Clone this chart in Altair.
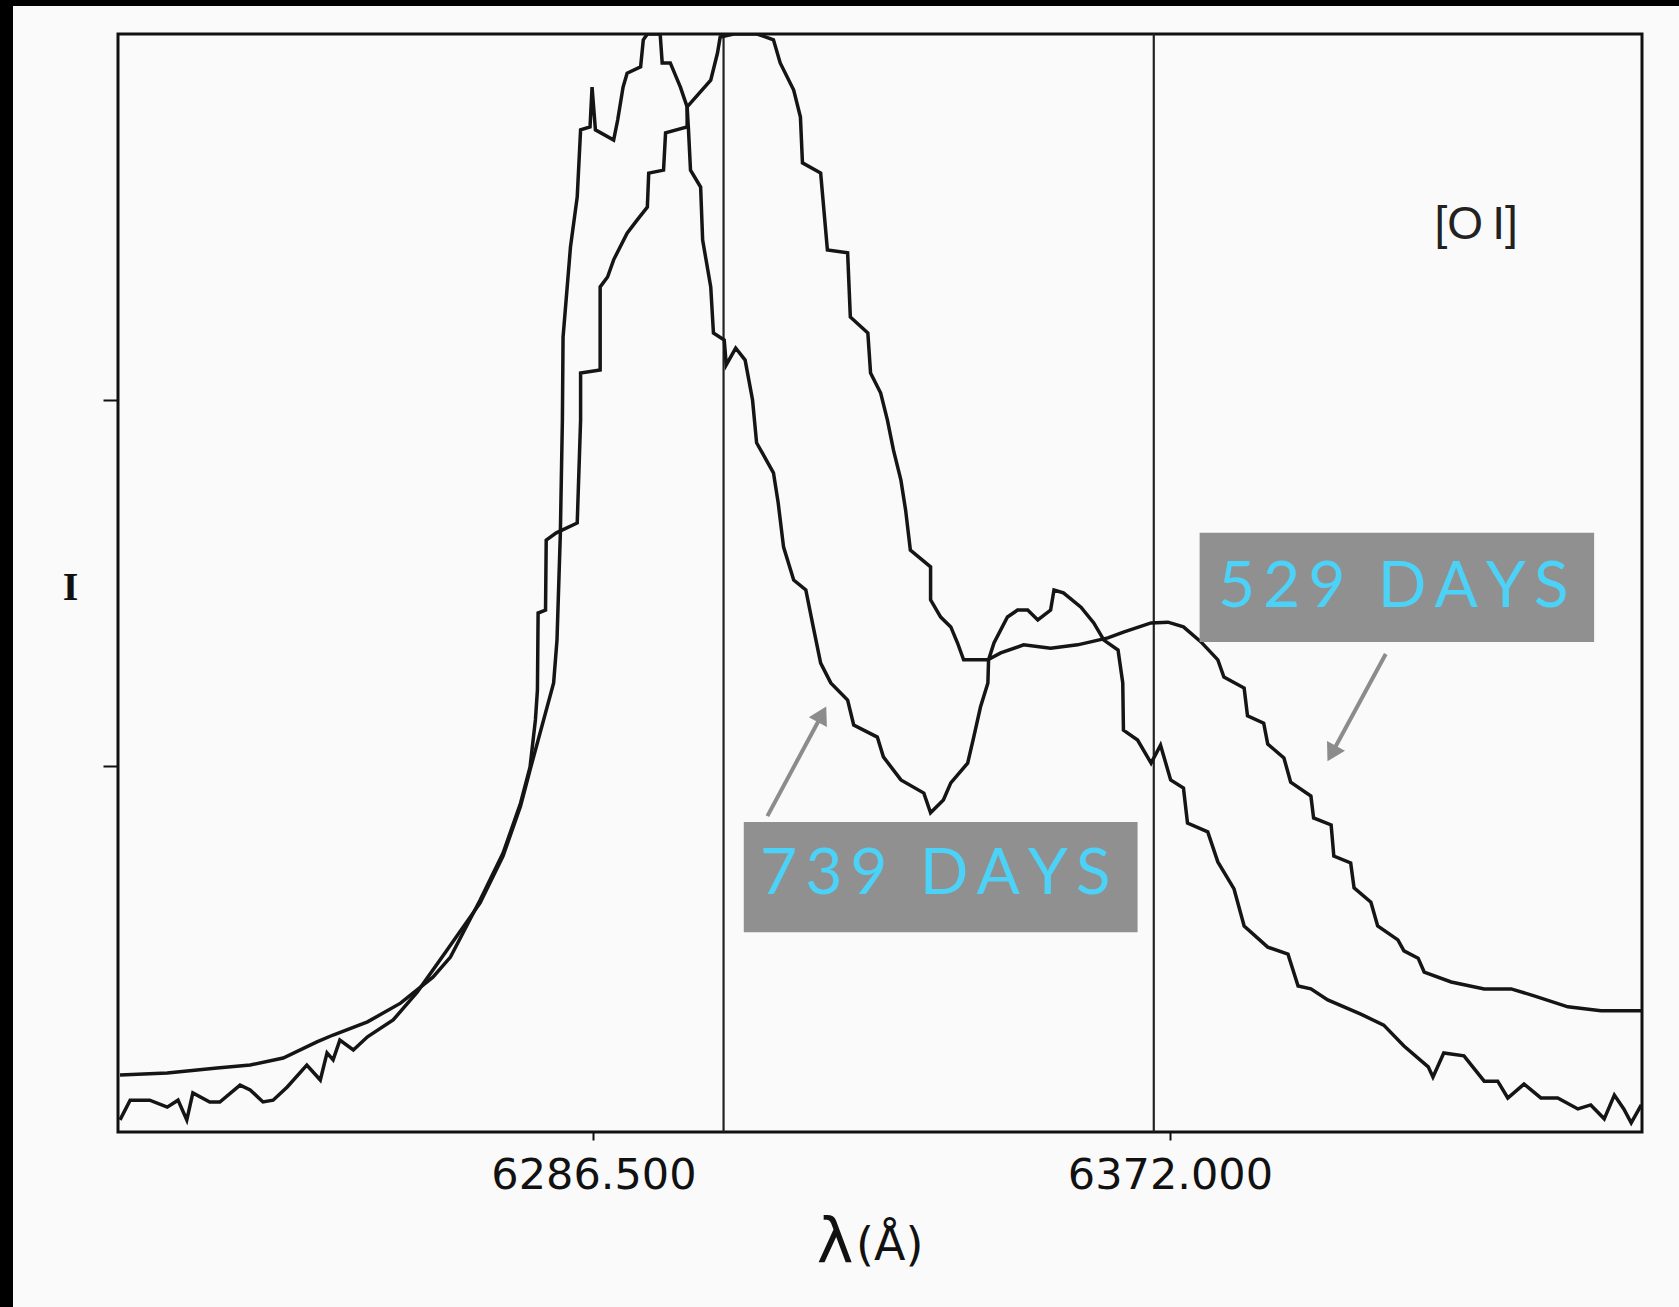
import altair as alt
import pandas as pd

# ---- spectrum at 529 days (wavelength in Angstrom, relative intensity) ----
wl_529 = [6216.3, 6223.3, 6230.7, 6235.6, 6240.5, 6245.5, 6247.9, 6253.0, 6257.9, 6262.7,
          6265.3, 6269.7, 6273.1, 6275.7, 6277.1, 6277.9, 6278.2, 6278.3, 6279.4, 6279.5,
          6281.0, 6284.1, 6284.6, 6284.6, 6287.5, 6287.5, 6288.6, 6289.5, 6291.5, 6293.0,
          6294.5, 6294.7, 6296.9, 6297.2, 6300.4, 6300.4, 6303.9, 6304.9, 6305.3, 6307.3,
          6309.3, 6310.8, 6313.2, 6314.2, 6316.2, 6317.2, 6317.5, 6320.2, 6321.2, 6324.2,
          6324.6, 6327.2, 6327.6, 6329.1, 6330.1, 6331.0, 6332.1, 6332.8, 6333.5, 6336.5,
          6336.5, 6338.0, 6339.5, 6340.5, 6341.4, 6345.0, 6346.9, 6350.3, 6354.3, 6358.3,
          6362.8, 6365.1, 6369.2, 6371.7, 6374.0, 6376.6, 6379.1, 6380.0, 6383.0, 6383.5,
          6385.9, 6386.5, 6388.9, 6389.9, 6392.9, 6393.3, 6395.9, 6396.3, 6398.8, 6399.3,
          6401.8, 6402.8, 6405.8, 6406.7, 6408.8, 6409.7, 6413.7, 6418.6, 6422.6, 6426.0,
          6431.0, 6435.9, 6441.9]
int_529 = [0.156, 0.161, 0.175, 0.183, 0.202, 0.246, 0.265, 0.301, 0.352, 0.423,
           0.478, 0.634, 0.762, 0.899, 0.997, 1.126, 1.208, 1.418, 1.426, 1.617,
           1.637, 1.664, 1.945, 2.074, 2.082, 2.309, 2.336, 2.383, 2.456, 2.492,
           2.527, 2.620, 2.628, 2.730, 2.746, 2.801, 2.874, 2.948, 2.992, 3.0,
           3.0, 3.0, 2.984, 2.921, 2.847, 2.773, 2.648, 2.620, 2.410, 2.402,
           2.227, 2.183, 2.074, 2.019, 1.945, 1.863, 1.781, 1.699, 1.590, 1.544,
           1.454, 1.407, 1.380, 1.336, 1.290, 1.290, 1.309, 1.331, 1.322, 1.331,
           1.350, 1.366, 1.391, 1.393, 1.380, 1.339, 1.290, 1.243, 1.213, 1.137,
           1.117, 1.060, 1.022, 0.956, 0.918, 0.858, 0.839, 0.754, 0.735, 0.667,
           0.628, 0.563, 0.525, 0.495, 0.475, 0.437, 0.410, 0.391, 0.391, 0.372,
           0.342, 0.331, 0.331]

# ---- spectrum at 739 days ----
wl_739 = [6216.3, 6217.8, 6220.7, 6223.3, 6224.9, 6226.2, 6227.1, 6229.6, 6231.1, 6234.1,
          6235.6, 6237.5, 6239.0, 6241.1, 6244.0, 6246.0, 6247.0, 6247.9, 6248.9, 6250.9,
          6253.0, 6256.8, 6260.4, 6264.8, 6269.7, 6273.1, 6275.7, 6277.1, 6280.6, 6281.1,
          6281.6, 6281.9, 6282.0, 6283.1, 6284.1, 6284.6, 6286.0, 6286.3, 6286.8, 6289.5,
          6290.1, 6290.9, 6291.5, 6293.5, 6293.9, 6294.5, 6296.4, 6296.7, 6297.9, 6299.4,
          6300.4, 6300.6, 6300.9, 6302.4, 6302.7, 6303.9, 6304.3, 6305.9, 6306.2, 6307.6,
          6309.0, 6310.1, 6310.7, 6313.2, 6313.9, 6314.7, 6316.2, 6318.0, 6319.1, 6320.2,
          6321.7, 6324.2, 6325.1, 6328.6, 6329.5, 6332.1, 6335.5, 6336.5, 6338.4, 6339.5,
          6342.0, 6342.9, 6343.9, 6345.0, 6345.1, 6345.9, 6347.9, 6349.4, 6350.9, 6352.4,
          6354.3, 6354.8, 6356.2, 6358.8, 6360.7, 6362.2, 6364.3, 6365.0, 6365.1, 6367.2,
          6369.2, 6370.6, 6372.1, 6374.0, 6374.6, 6377.6, 6379.1, 6381.5, 6383.0, 6386.5,
          6389.5, 6391.0, 6392.9, 6395.4, 6400.3, 6403.7, 6406.7, 6410.3, 6411.0, 6412.6,
          6415.6, 6418.6, 6420.6, 6422.1, 6424.5, 6427.0, 6429.5, 6432.5, 6434.4, 6436.4,
          6437.9, 6439.3, 6440.4, 6441.9]
int_739 = [0.033, 0.087, 0.087, 0.068, 0.087, 0.033, 0.107, 0.082, 0.082, 0.128,
           0.115, 0.082, 0.087, 0.123, 0.183, 0.142, 0.216, 0.197, 0.251, 0.224,
           0.260, 0.306, 0.383, 0.497, 0.626, 0.754, 0.891, 0.989, 1.227, 1.344,
           1.637, 1.945, 2.172, 2.418, 2.555, 2.738, 2.746, 2.855, 2.738, 2.710,
           2.765, 2.855, 2.893, 2.910, 2.984, 3.0, 3.0, 2.921, 2.921, 2.855,
           2.801, 2.738, 2.628, 2.582, 2.437, 2.309, 2.183, 2.164, 2.096, 2.142,
           2.109, 2.000, 1.883, 1.801, 1.719, 1.598, 1.508, 1.481, 1.380, 1.281,
           1.227, 1.180, 1.112, 1.079, 1.025, 0.962, 0.926, 0.872, 0.907, 0.954,
           1.008, 1.079, 1.161, 1.227, 1.290, 1.336, 1.407, 1.426, 1.426, 1.399,
           1.426, 1.481, 1.473, 1.434, 1.391, 1.344, 1.317, 1.227, 1.098, 1.071,
           1.008, 1.057, 0.962, 0.940, 0.844, 0.820, 0.738, 0.664, 0.563, 0.505,
           0.486, 0.399, 0.391, 0.361, 0.322, 0.292, 0.235, 0.178, 0.150, 0.216,
           0.208, 0.139, 0.139, 0.093, 0.131, 0.093, 0.093, 0.063, 0.074, 0.036,
           0.101, 0.063, 0.025, 0.074]

rest_lines = [6305.8, 6369.6]
x_ticks = [6286.5, 6372.0]
y_ticks = [1, 2]

# annotations (data coordinates)
ann_labels = ["529 DAYS", "739 DAYS"]
box_x = [6376.4, 6308.8]
box_x2 = [6434.9, 6367.2]
box_y = [1.637, 0.847]
box_y2 = [1.339, 0.546]
txt_x = [6405.1, 6337.2]
txt_y = [1.486, 0.702]
arrow_tail_x = [6404.0, 6312.3]
arrow_tail_y = [1.306, 0.863]
arrow_head_x = [6396.2, 6320.2]
arrow_head_y = [1.041, 1.134]
arrow_angle = [208.7, 28.2]

X_DOM = [6216, 6442]
Y_DOM = [0, 3]

rows = []
for i, (w, v) in enumerate(zip(wl_529, int_529)):
    rows.append({"wl": w, "I": v, "series": "529", "i": i})
for i, (w, v) in enumerate(zip(wl_739, int_739)):
    rows.append({"wl": w, "I": v, "series": "739", "i": i})
spec = pd.DataFrame(rows)

xscale = alt.Scale(domain=X_DOM, nice=False, zero=False)
yscale = alt.Scale(domain=Y_DOM, nice=False, zero=False)

x_axis = alt.Axis(values=x_ticks, format=".3f", grid=False, domain=False,
                  tickSize=8, tickWidth=2, tickColor="#111",
                  labelFont="DejaVu Sans", labelFontSize=43, labelColor="#111",
                  labelPadding=14, labelLimit=0, title=None)
y_axis = alt.Axis(values=y_ticks, labels=False, grid=False, domain=False,
                  tickSize=15, tickWidth=2, tickColor="#111",
                  title="I", titleAngle=0, titleX=-48, titleY=553,
                  titleAlign="center", titleBaseline="middle",
                  titleFont="Liberation Serif", titleFontSize=40,
                  titleFontWeight="bold", titleColor="#111")

curves = alt.Chart(spec).mark_line(strokeWidth=3.5, color="#151515", clip=True).encode(
    x=alt.X("wl:Q", scale=xscale, axis=x_axis),
    y=alt.Y("I:Q", scale=yscale, axis=y_axis),
    detail="series:N",
    order="i:Q",
)

vlines = alt.Chart(pd.DataFrame({"wl": rest_lines})).mark_rule(
    color="#222", strokeWidth=2.2).encode(x=alt.X("wl:Q", scale=xscale))

ann = pd.DataFrame({
    "label": ["\u2009".join(list(s)) for s in ann_labels],
    "bx": box_x, "bx2": box_x2, "by": box_y, "by2": box_y2,
    "tx": txt_x, "ty": txt_y,
    "ax": arrow_tail_x, "ay": arrow_tail_y, "hx": arrow_head_x, "hy": arrow_head_y,
    "ang": arrow_angle,
})

boxes = alt.Chart(ann).mark_rect(color="#909090").encode(
    x=alt.X("bx:Q", scale=xscale), x2="bx2:Q",
    y=alt.Y("by:Q", scale=yscale), y2="by2:Q")

texts = alt.Chart(ann).mark_text(font="Lato", fontSize=64, color="#4dd2f7",
                                 align="center", baseline="middle").encode(
    x=alt.X("tx:Q", scale=xscale), y=alt.Y("ty:Q", scale=yscale), text="label:N")

arrow_lines = alt.Chart(ann).mark_rule(color="#8c8c8c", strokeWidth=4).encode(
    x=alt.X("ax:Q", scale=xscale), x2="hx:Q",
    y=alt.Y("ay:Q", scale=yscale), y2="hy:Q")

arrow_heads = alt.Chart(ann).mark_point(shape="triangle", filled=True, size=420,
                                        color="#8c8c8c", opacity=1).encode(
    x=alt.X("hx:Q", scale=xscale), y=alt.Y("hy:Q", scale=yscale),
    angle=alt.Angle("ang:Q", scale=None))

oi = alt.Chart(pd.DataFrame({"x": [6417.4], "y": [2.478], "t": ["[O\u2009I]"]})).mark_text(
    font="Liberation Sans", fontSize=46, color="#222", align="center", baseline="middle"
).encode(x=alt.X("x:Q", scale=xscale), y=alt.Y("y:Q", scale=yscale), text="t:N")

# x-axis title: large lambda followed by the unit, placed below the tick labels
xt = pd.DataFrame({"k": [0]})
lam = alt.Chart(xt).mark_text(text="λ", font="DejaVu Sans", fontSize=62, color="#111",
                              align="center", baseline="alphabetic").encode(
    x=alt.value(717), y=alt.value(1228))
unit = alt.Chart(xt).mark_text(text="(Å)", font="DejaVu Sans", fontSize=46, color="#111",
                               align="left", baseline="alphabetic").encode(
    x=alt.value(738), y=alt.value(1226))

edge = pd.DataFrame({"k": [0]})
left_strip = alt.Chart(edge).mark_rect(color="black").encode(
    x=alt.value(-118), x2=alt.value(-105), y=alt.value(-34), y2=alt.value(1273))
top_strip = alt.Chart(edge).mark_rect(color="black").encode(
    x=alt.value(-118), x2=alt.value(1561), y=alt.value(-34), y2=alt.value(-28))

chart = alt.layer(
    left_strip, top_strip, vlines, curves, boxes, texts, arrow_lines, arrow_heads, oi,
    lam, unit
).properties(
    width=1524, height=1098,
    padding={"left": 118, "top": 34, "right": 37, "bottom": 175},
    autosize="none",
    background="#fafafa",
).configure_view(stroke="#111", strokeWidth=3)

chart.save("out.html", embed_options={"renderer": "svg", "actions": False})
